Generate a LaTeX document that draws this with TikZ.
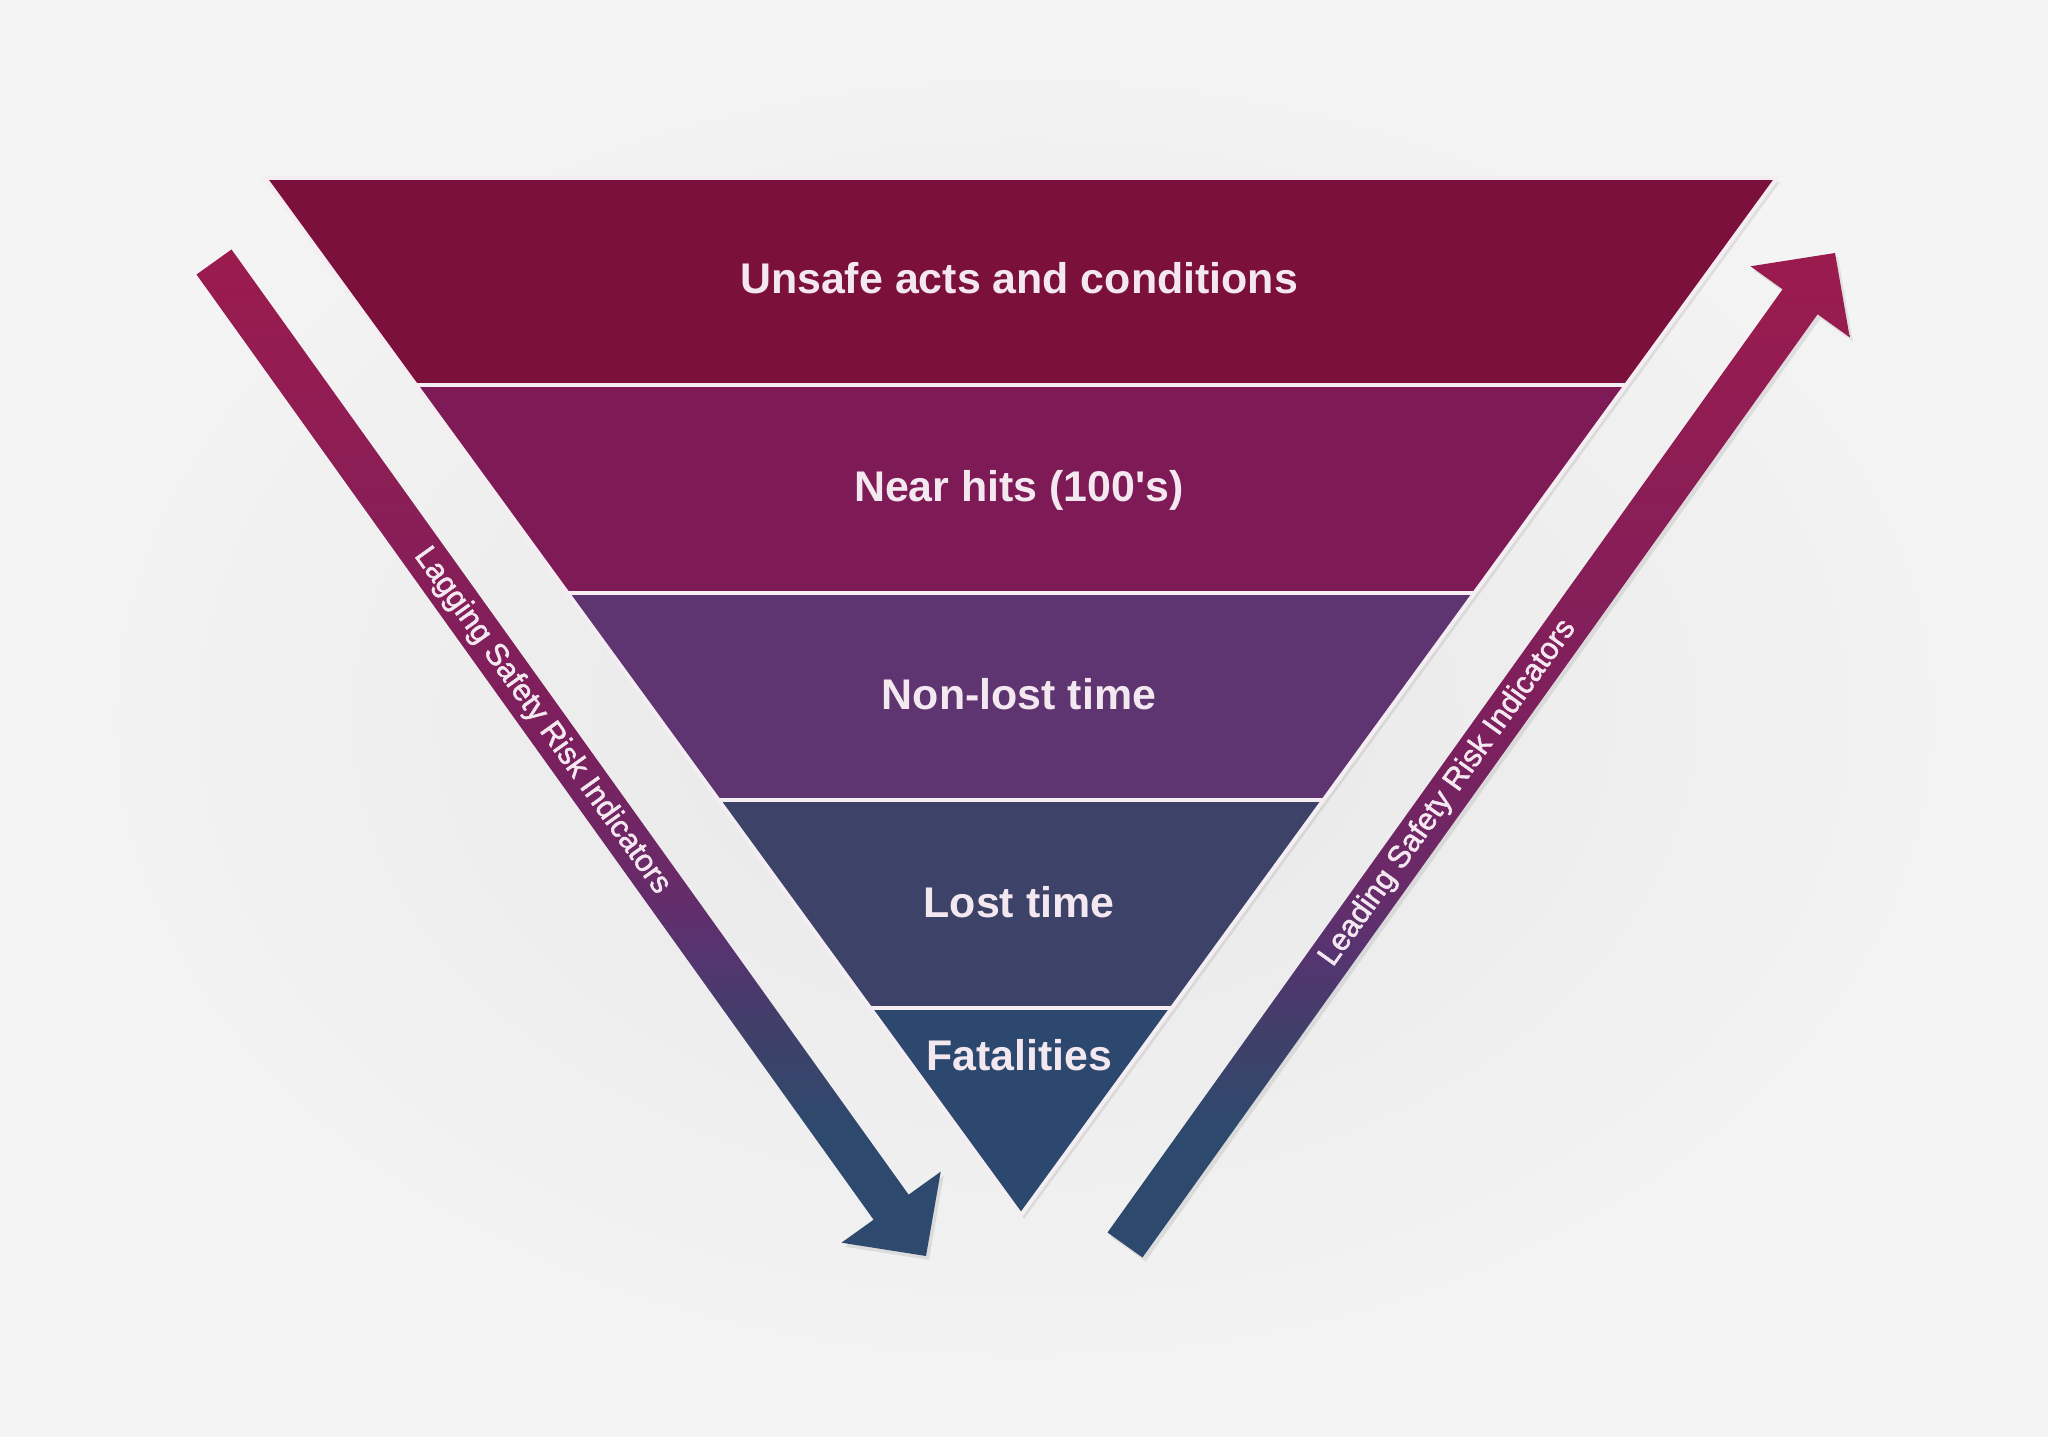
\documentclass[tikz,border=0pt]{standalone}
\usepackage{fontspec}
\setmainfont{Liberation Sans}
\newfontfamily\sidefont{Liberation Sans}[FakeBold=1.6]
\usepackage{xcolor}
\usepackage{tikz}
\usetikzlibrary{shadows}
\definecolor{BandOne}{HTML}{7C103D}
\definecolor{BandTwo}{HTML}{7E1A55}
\definecolor{BandThree}{HTML}{5E3570}
\definecolor{BandFour}{HTML}{3C4268}
\definecolor{BandFive}{HTML}{2C486E}
\definecolor{RimWhite}{HTML}{F4EEF2}
\definecolor{LabelPink}{HTML}{F4E8F0}
\definecolor{ArrowCrimson}{HTML}{9B1B4E}
\definecolor{ArrowMagenta}{HTML}{7A205E}
\definecolor{ArrowPlum}{HTML}{6A2A68}
\definecolor{ArrowViolet}{HTML}{553470}
\definecolor{ArrowSlate}{HTML}{3F4069}
\definecolor{ArrowNavy}{HTML}{2D4A6E}
\definecolor{BgLight}{HTML}{F5F4F5}
\definecolor{BgDark}{HTML}{E7E7E7}
\pgfdeclareverticalshading{riskfade}{100bp}{color(0bp)=(ArrowNavy); color(31bp)=(ArrowNavy); color(36bp)=(ArrowSlate); color(40bp)=(ArrowViolet); color(44bp)=(ArrowPlum); color(50bp)=(ArrowMagenta); color(75bp)=(ArrowCrimson); color(100bp)=(ArrowCrimson)}

\begin{document}
\begin{tikzpicture}[x=0.01cm, y=0.01cm,
  bandlabel/.style={anchor=base, text=LabelPink, font=\fontsize{12.2pt}{14pt}\selectfont\bfseries},
  sidelabel/.style={text=LabelPink, inner sep=0pt, font=\fontsize{8.8pt}{10pt}\sidefont},
  softshadow/.style={drop shadow={opacity=0.18, shadow xshift=0.03cm, shadow yshift=-0.04cm}}]
\useasboundingbox (0,0) rectangle (2048,1436);
\shade[inner color=BgDark, outer color=BgLight] (0,0) rectangle (2048,1436);

% inverted pyramid
\coordinate (tl) at (265,1258);
\coordinate (tr) at (1777,1258);
\coordinate (apex) at (1021,221);
\fill[softshadow, BandFive] (tl) -- (tr) -- (apex) -- cycle;
\begin{scope}
\clip (tl) -- (tr) -- (apex) -- cycle;
\fill[BandOne] (0,1050.5) rectangle (2048,1300);
\fill[BandTwo] (0,843) rectangle (2048,1050.5);
\fill[BandThree] (0,635.5) rectangle (2048,843);
\fill[BandFour] (0,428) rectangle (2048,635.5);
\fill[BandFive] (0,200) rectangle (2048,428);
\foreach \y in {1050.5, 843, 635.5, 428}
  \draw[RimWhite, line width=0.04cm] (0,\y) -- (2048,\y);
\end{scope}
\draw[RimWhite, line width=0.04cm] (tl) -- (tr) -- (apex) -- cycle;

\node[bandlabel] (unsafe) at (1019,1142) {Unsafe acts and conditions};
\node[bandlabel] (nearhits) at (1019,934) {Near hits (100\textquotesingle s)};
\node[bandlabel] (nonlost) at (1019,726) {Non-lost time};
\node[bandlabel] (losttime) at (1019,518) {Lost time};
\node[bandlabel] (fatal) at (1019,365) {Fatalities};

% indicator arrows
\shade[softshadow, shading=riskfade] (196.5,1161.5) -- (873.6,216.3) -- (841.5,193.3) -- (926,180) -- (940.7,264.3) -- (908.6,241.3) -- (231.5,1186.5) -- cycle;
\shade[softshadow, shading=riskfade] (1142.5,178.5) -- (1817.6,1121.7) -- (1849.7,1098.7) -- (1835,1183) -- (1750.5,1169.7) -- (1782.6,1146.7) -- (1107.5,203.5) -- cycle;

\node[sidelabel, rotate=-54.4] (lagging) at (542,715) {Lagging Safety Risk Indicators};
\node[sidelabel, rotate=54.4] (leading) at (1448,643) {Leading Safety Risk Indicators};
\end{tikzpicture}
\end{document}
